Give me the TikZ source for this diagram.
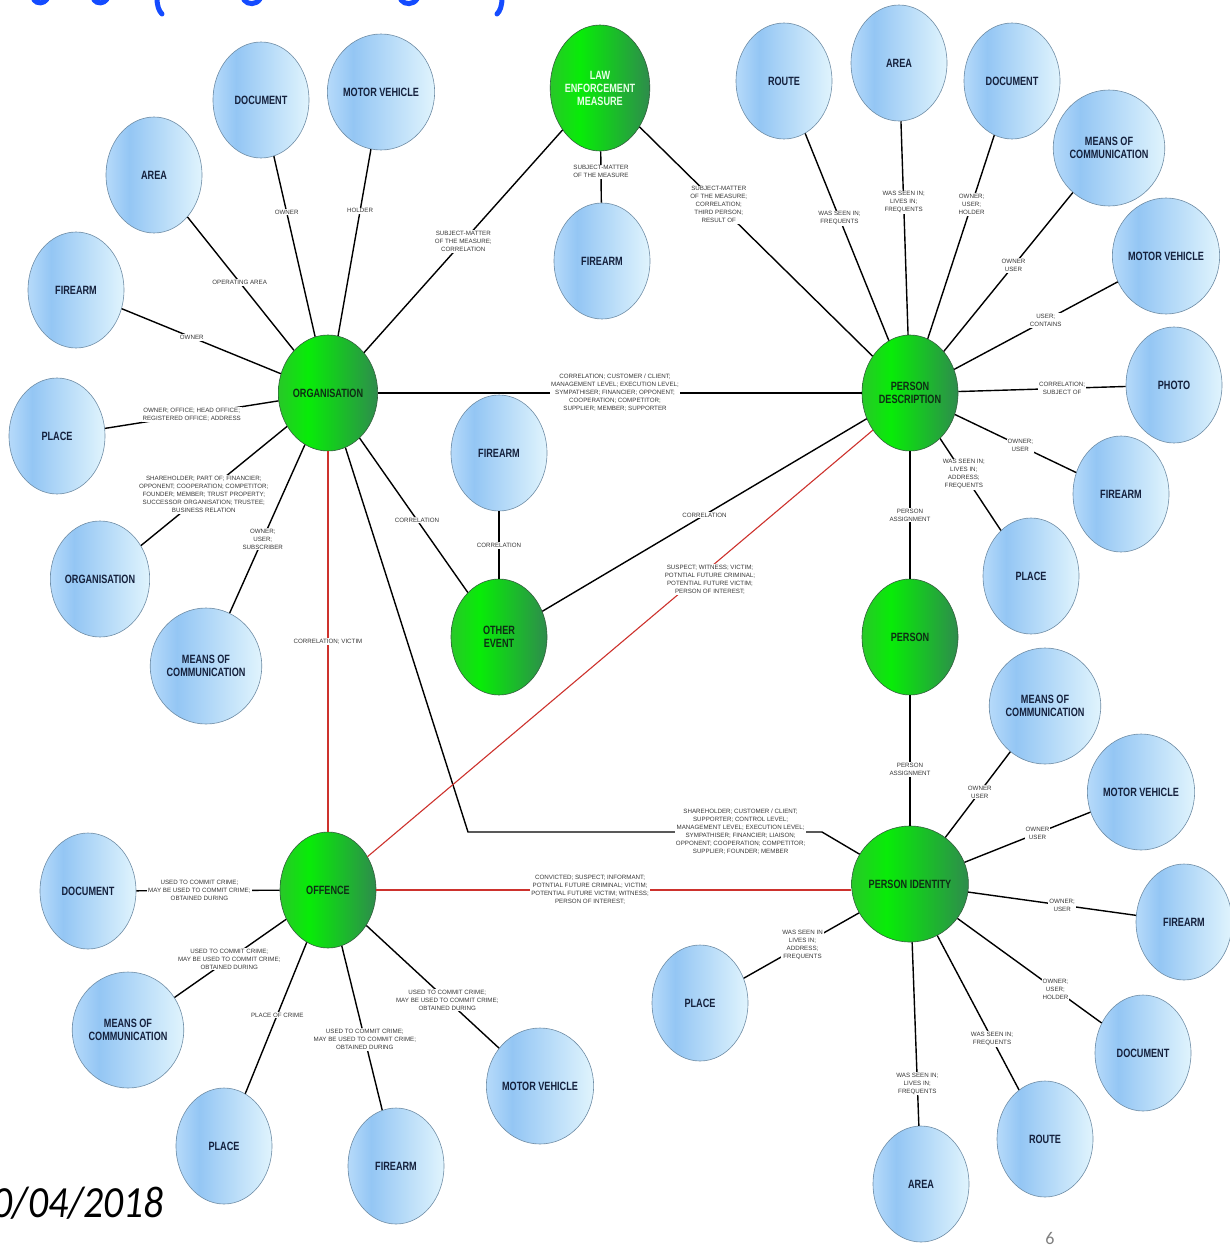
\documentclass[tikz,border=0pt]{standalone}
\usepackage{fontspec}
\setmainfont{Liberation Sans}
\newfontfamily\nodefamily[FakeStretch=0.76]{Liberation Sans}
\newfontfamily\datefamily{Carlito}
\usetikzlibrary{shapes.geometric}

% palette
\definecolor{bA}{RGB}{182,218,250}
\definecolor{bB}{RGB}{148,198,244}
\definecolor{bC}{RGB}{224,244,253}
\definecolor{gA}{RGB}{40,200,40}
\definecolor{gB}{RGB}{8,236,8}
\definecolor{gC}{RGB}{46,140,76}
\definecolor{bluerim}{RGB}{110,140,165}
\definecolor{greenrim}{RGB}{50,95,60}
\definecolor{navytext}{RGB}{20,32,60}
\definecolor{greentext}{RGB}{14,45,20}
\definecolor{lawtext}{RGB}{232,255,232}
\definecolor{labgray}{RGB}{55,55,55}
\definecolor{crimred}{RGB}{205,50,45}
\definecolor{titleblue}{RGB}{20,75,255}

\pgfdeclarehorizontalshading{bluesh}{100bp}{color(0bp)=(bA); color(25bp)=(bA); color(37bp)=(bB); color(75bp)=(bC); color(100bp)=(bC)}
\pgfdeclarehorizontalshading{greensh}{100bp}{color(0bp)=(gA); color(25bp)=(gA); color(40bp)=(gB); color(75bp)=(gC); color(100bp)=(gC)}

\tikzset{
  bnode/.style={ellipse, minimum width=96pt, minimum height=116pt, inner sep=0pt,
    draw=bluerim, line width=0.6pt, shading=bluesh, align=center, text=navytext,
    font=\nodefamily\bfseries\fontsize{12}{13}\selectfont},
  gnode/.style={bnode, draw=greenrim, shading=greensh, text=greentext},
  rel/.style={draw=black, line width=1.4pt},
  crim/.style={draw=crimred, line width=1.1pt},
  lab/.style={fill=white, inner sep=1pt, align=center, text=labgray,
    font=\fontsize{6.2}{8}\selectfont}
}

\begin{document}
\begin{tikzpicture}[x=1pt, y=-1pt]
\useasboundingbox (0,0) rectangle (1229,1247);

% heading strokes cut by the top edge
\begin{scope}[titleblue, line width=5pt, line cap=round]
  \draw (34,0) .. controls (37,4) and (44,4) .. (47,-1);
  \draw (94,0) .. controls (97,4) and (104,4) .. (107,-1);
  \draw (157,-2) .. controls (157,6) and (159,11) .. (162,14);
  \draw (244,0) .. controls (248,5) and (256,5) .. (260,-1);
  \draw (401,0) .. controls (405,5) and (413,5) .. (417,-1);
  \draw (502,-2) .. controls (502,6) and (500,11) .. (497,14);
\end{scope}

% central entities
\node[gnode, minimum height=126pt, text=lawtext] (law) at (600,88) {LAW\\ENFORCEMENT\\MEASURE};
\node[gnode] (org) at (328,393) {ORGANISATION};
\node[gnode] (pdesc) at (910,393) {PERSON\\DESCRIPTION};
\node[gnode] (oev) at (499,637) {OTHER\\EVENT};
\node[gnode] (pers) at (910,637) {PERSON};
\node[gnode] (off) at (328,890) {OFFENCE};
\node[gnode] (pid) at (910,884) {PERSON IDENTITY};

% attached objects
\node[bnode] (docA) at (261,100) {DOCUMENT};
\node[bnode] (mvA) at (381,92) {MOTOR VEHICLE};
\node[bnode] (areaA) at (154,175) {AREA};
\node[bnode] (fireA) at (76,290) {FIREARM};
\node[bnode] (placeA) at (57,436) {PLACE};
\node[bnode] (orgB) at (100,579) {ORGANISATION};
\node[bnode] (meansA) at (206,666) {MEANS OF\\COMMUNICATION};
\node[bnode] (fireLaw) at (602,261) {FIREARM};
\node[bnode] (fireEv) at (499,453) {FIREARM};
\node[bnode] (routeA) at (784,81) {ROUTE};
\node[bnode] (areaB) at (899,63) {AREA};
\node[bnode] (docB) at (1012,81) {DOCUMENT};
\node[bnode] (meansB) at (1109,148) {MEANS OF\\COMMUNICATION};
\node[bnode] (mvB) at (1166,256) {MOTOR VEHICLE};
\node[bnode] (photo) at (1174,385) {PHOTO};
\node[bnode] (fireB) at (1121,494) {FIREARM};
\node[bnode] (placeB) at (1031,576) {PLACE};
\node[bnode] (meansC) at (1045,706) {MEANS OF\\COMMUNICATION};
\node[bnode] (mvC) at (1141,792) {MOTOR VEHICLE};
\node[bnode] (fireC) at (1184,922) {FIREARM};
\node[bnode] (docC) at (1143,1053) {DOCUMENT};
\node[bnode] (routeB) at (1045,1139) {ROUTE};
\node[bnode] (areaC) at (921,1184) {AREA};
\node[bnode] (placeC) at (700,1003) {PLACE};
\node[bnode] (docD) at (88,891) {DOCUMENT};
\node[bnode] (meansD) at (128,1030) {MEANS OF\\COMMUNICATION};
\node[bnode] (placeD) at (224,1146) {PLACE};
\node[bnode] (fireD) at (396,1166) {FIREARM};
\node[bnode] (mvD) at (540,1086) {MOTOR VEHICLE};

% bends of the organisation / person identity link
\coordinate (k1) at (468,832);
\coordinate (k2) at (822,832);

% organisation
\draw[rel] (org) -- node[lab,pos=0.69]{OWNER} (docA);
\draw[rel] (org) -- node[lab,pos=0.67]{HOLDER} (mvA);
\draw[rel] (org) -- node[lab,pos=0.51]{OPERATING AREA} (areaA);
\draw[rel] (org) -- node[lab,pos=0.56]{OWNER} (fireA);
\draw[rel] (org) -- node[lab,pos=0.50]{OWNER; OFFICE; HEAD OFFICE;\\REGISTERED OFFICE; ADDRESS} (placeA);
\draw[rel] (org) -- node[lab,pos=0.57]{SHAREHOLDER; PART OF; FINANCIER;\\OPPONENT; COOPERATION; COMPETITOR;\\FOUNDER; MEMBER; TRUST PROPERTY;\\SUCCESSOR ORGANISATION; TRUSTEE;\\BUSINESS RELATION} (orgB);
\draw[rel] (org) -- node[lab,pos=0.56]{OWNER;\\USER;\\SUBSCRIBER} (meansA);
\draw[rel] (org) -- node[lab,pos=0.50]{SUBJECT-MATTER\\OF THE MEASURE;\\CORRELATION} (law);
\draw[rel] (org) -- node[lab,pos=0.49]{CORRELATION; CUSTOMER / CLIENT;\\MANAGEMENT LEVEL; EXECUTION LEVEL;\\SYMPATHISER; FINANCIER; OPPONENT;\\COOPERATION; COMPETITOR;\\SUPPLIER; MEMBER; SUPPORTER} (pdesc);
\draw[rel] (org) -- node[lab,pos=0.53]{CORRELATION} (oev);
\draw[crim] (org) -- node[lab,pos=0.50]{CORRELATION; VICTIM} (off);
\draw[rel] (org) -- (k1) -- node[lab,pos=0.77]{SHAREHOLDER; CUSTOMER / CLIENT;\\SUPPORTER; CONTROL LEVEL;\\MANAGEMENT LEVEL; EXECUTION LEVEL;\\SYMPATHISER; FINANCIER; LIAISON;\\OPPONENT; COOPERATION; COMPETITOR;\\SUPPLIER; FOUNDER; MEMBER} (k2) -- (pid);

% law enforcement measure
\draw[rel] (law) -- node[lab,pos=0.40]{SUBJECT-MATTER\\OF THE MEASURE} (fireLaw);
\draw[rel] (law) -- node[lab,pos=0.34]{SUBJECT-MATTER\\OF THE MEASURE;\\CORRELATION;\\THIRD PERSON;\\RESULT OF} (pdesc);

% person description
\draw[rel] (pdesc) -- node[lab,pos=0.59]{WAS SEEN IN;\\FREQUENTS} (routeA);
\draw[rel] (pdesc) -- node[lab,pos=0.62]{WAS SEEN IN;\\LIVES IN;\\FREQUENTS} (areaB);
\draw[rel] (pdesc) -- node[lab,pos=0.66]{OWNER;\\USER;\\HOLDER} (docB);
\draw[rel] (pdesc) -- node[lab,pos=0.54]{OWNER\\USER} (meansB);
\draw[rel] (pdesc) -- node[lab,pos=0.56]{USER;\\CONTAINS} (mvB);
\draw[rel] (pdesc) -- node[lab,pos=0.62]{CORRELATION;\\SUBJECT OF} (photo);
\draw[rel] (pdesc) -- node[lab,pos=0.54]{OWNER;\\USER} (fireB);
\draw[rel] (pdesc) -- node[lab,pos=0.39]{WAS SEEN IN;\\LIVES IN;\\ADDRESS;\\FREQUENTS} (placeB);
\draw[rel] (pdesc) -- node[lab,pos=0.50]{PERSON\\ASSIGNMENT} (pers);
\draw[rel] (pdesc) -- node[lab,pos=0.50]{CORRELATION} (oev);
\draw[crim] (pdesc.-135) -- node[lab,pos=0.35,xshift=14pt]{SUSPECT; WITNESS; VICTIM;\\POTNTIAL FUTURE CRIMINAL;\\POTENTIAL FUTURE VICTIM;\\PERSON OF INTEREST;} (off);

% other event, person
\draw[rel] (oev) -- node[lab,pos=0.49]{CORRELATION} (fireEv);
\draw[rel] (pers) -- node[lab,pos=0.57]{PERSON\\ASSIGNMENT} (pid);

% person identity
\draw[rel] (pid) -- node[lab,pos=0.53]{OWNER\\USER} (meansC);
\draw[rel] (pid) -- node[lab,pos=0.58]{OWNER\\USER} (mvC);
\draw[rel] (pid) -- node[lab,pos=0.56]{OWNER;\\USER} (fireC);
\draw[rel] (pid) -- node[lab,pos=0.68]{OWNER;\\USER;\\HOLDER} (docC);
\draw[rel] (pid) -- node[lab,pos=0.67]{WAS SEEN IN;\\FREQUENTS} (routeB);
\draw[rel] (pid) -- node[lab,pos=0.77]{WAS SEEN IN;\\LIVES IN;\\FREQUENTS} (areaC);
\draw[rel] (pid) -- node[lab,pos=0.49]{WAS SEEN IN\\LIVES IN;\\ADDRESS;\\FREQUENTS} (placeC);
\draw[crim] (off) -- node[lab,pos=0.45]{CONVICTED; SUSPECT; INFORMANT;\\POTNTIAL FUTURE CRIMINAL; VICTIM;\\POTENTIAL FUTURE VICTIM; WITNESS;\\PERSON OF INTEREST;} (off -| pid.west);

% offence
\draw[rel] (off) -- node[lab,pos=0.56]{USED TO COMMIT CRIME;\\MAY BE USED TO COMMIT CRIME;\\OBTAINED DURING} (docD);
\draw[rel] (off) -- node[lab,pos=0.51]{USED TO COMMIT CRIME;\\MAY BE USED TO COMMIT CRIME;\\OBTAINED DURING} (meansD);
\draw[rel] (off) -- node[lab,pos=0.48]{PLACE OF CRIME} (placeD);
\draw[rel] (off) -- node[lab,pos=0.57]{USED TO COMMIT CRIME;\\MAY BE USED TO COMMIT CRIME;\\OBTAINED DURING} (fireD);
\draw[rel] (off) -- node[lab,pos=0.61]{USED TO COMMIT CRIME;\\MAY BE USED TO COMMIT CRIME;\\OBTAINED DURING} (mvD);

% footer
\node[anchor=base east, inner sep=0pt, font=\datefamily\itshape\fontsize{33}{33}\selectfont] (date) at (164,1217) {\scalebox{1.2}[1.35]{0/04/2018}};
\node[anchor=base, inner sep=0pt, text=gray, font=\datefamily\fontsize{18}{18}\selectfont] (pageno) at (1050,1244) {6};
\end{tikzpicture}
\end{document}
